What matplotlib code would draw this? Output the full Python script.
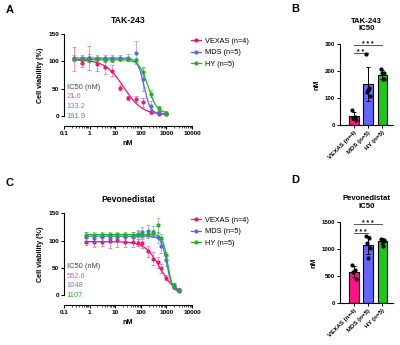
import numpy as np
import matplotlib
matplotlib.use('Agg')
from matplotlib import pyplot as plt

plt.rcParams['font.family'] = ['Liberation Sans', 'DejaVu Sans']

groups = ['VEXAS (n=4)', 'MDS (n=5)', 'HY (n=5)']
bar_labels = ['VEXAS (n=4)', 'MDS (n=5)', 'HY (n=5)']
line_colors = ['#EE1675', '#5C62F5', '#22B022']
text_colors = ['#EE5A98', '#7C7CE6', '#2FAA2F']
bar_colors = ['#FF1488', '#6464FF', '#1FC41F']

# TAK-243 dose response
tak_dose = [0.244, 0.49, 0.98, 1.95, 3.9, 7.8, 15.6, 31.2, 62.5, 125, 250, 500, 1000]
tak_mean = [
    [105, 97, 106, 95, 89, 83, 52, 33, 31, 25, 8, 3, 3],
    [107, 106, 106, 107, 106, 106, 107, 107, 116, 68, 19, 7, 4],
    [104, 104, 103, 104, 103, 103, 104, 104, 103, 81, 41, 15, 6],
]
tak_err = [
    [22, 8, 22, 12, 12, 10, 5, 4, 5, 8, 4, 2, 2],
    [5, 5, 7, 5, 5, 6, 5, 6, 21, 22, 8, 3, 2],
    [4, 4, 4, 4, 4, 5, 4, 4, 4, 6, 6, 4, 3],
]
# 4PL fit: top, bottom, IC50, hill
tak_fit = [(103, 2, 21.6, 1.2), (106, 4, 133.2, 3.5), (103, 5, 191.9, 2.5)]
tak_ic50 = ['21.6', '133.2', '191.9']

# Pevonedistat dose response
pev_dose = [0.75, 1.5, 3, 6, 12, 24, 48, 75, 110, 185, 300, 450, 600, 1000, 2000, 3000]
pev_mean = [
    [98, 97, 98, 99, 101, 98, 97, 96, 95, 80, 67, 60, 49, 32, 14, 8],
    [106, 104, 106, 105, 106, 106, 107, 110, 115, 117, 116, 106, 90, 64, 17, 9],
    [111, 111, 111, 111, 111, 111, 111, 112, 111, 112, 113, 128, 104, 73, 18, 10],
]
pev_err = [
    [6, 8, 8, 12, 12, 10, 8, 6, 8, 10, 12, 10, 8, 4, 3, 2],
    [10, 6, 8, 8, 8, 7, 8, 10, 10, 12, 10, 10, 12, 10, 5, 3],
    [5, 5, 5, 5, 5, 5, 5, 6, 5, 6, 6, 14, 8, 6, 4, 3],
]
pev_fit = [(98, 3, 552.6, 1.5), (108, 5, 1048, 4.0), (111, 7, 1107, 4.5)]
pev_ic50 = ['552.6', '1048', '1107']

# IC50 per patient (bar charts)
tak_bar_pts = [[55, 30, 25, 20], [265, 136, 123, 107, 129], [210, 195, 192, 170, 170]]
pev_bar_pts = [[700, 610, 570, 450], [1243, 1195, 1100, 1022, 827], [1190, 1170, 1150, 1140, 1060]]
tak_sig = [(0, 1, '* *', 268), (0, 2, '* * *', 298)]
pev_sig = [(0, 1, '* * *', 1300), (0, 2, '* * *', 1460)]

W, H = 400, 345
fig = plt.figure(figsize=(4, 3.45), dpi=100)


def px_axes(x0, y0, x1, y1):
    return fig.add_axes([x0 / W, 1 - y1 / H, (x1 - x0) / W, (y1 - y0) / H])


def curve_panel(ax, dose, means, errs, fits, ic50s, title, leg_y):
    handles = []
    for i in range(3):
        ax.errorbar(dose, means[i], yerr=errs[i], fmt='none', ecolor=line_colors[i],
                    alpha=0.55, elinewidth=0.6, capsize=1.3, capthick=0.6, clip_on=False)
        top, bot, ic, hill = fits[i]
        xs = np.logspace(np.log10(dose[0]), np.log10(dose[-1]), 200)
        ax.plot(xs, bot + (top - bot) / (1 + (xs / ic) ** hill), color=line_colors[i], lw=0.9)
        ax.plot(dose, means[i], 'o', color=line_colors[i], ms=2.0, clip_on=False)
        h, = ax.plot([], [], 'o-', color=line_colors[i], ms=2.0, lw=0.9, label=groups[i])
        handles.append(h)
    ax.set_xscale('log')
    ax.set_xlim(0.1, 10000)
    ax.set_ylim(0, 150)
    ax.set_yticks([0, 50, 100, 150])
    ax.set_xticks([0.1, 1, 10, 100, 1000, 10000])
    ax.set_xticklabels(['0.1', '1', '10', '100', '1000', '10000'])
    ax.spines['top'].set_visible(False)
    ax.spines['right'].set_visible(False)
    ax.spines['bottom'].set_position(('outward', 7))
    for s in ax.spines.values():
        s.set_linewidth(0.8)
    ax.tick_params(axis='both', which='major', labelsize=4.6, length=2, width=0.7, pad=1.5)
    ax.tick_params(axis='x', which='minor', length=1.3, width=0.5)
    for lab in ax.get_xticklabels() + ax.get_yticklabels():
        lab.set_fontweight('bold')
    ax.set_title(title, fontsize=6.2, fontweight='bold', pad=8)
    ax.set_ylabel('Cell viability (%)', fontsize=5.2, fontweight='bold', labelpad=3)
    ax.set_xlabel('nM', fontsize=5.2, fontweight='bold', labelpad=3)
    ax.legend(handles=handles, loc='upper left', bbox_to_anchor=(191 / W, 1 - leg_y / H),
              bbox_transform=fig.transFigure, frameon=False, fontsize=5.3,
              handlelength=1.35, handletextpad=0.6, labelspacing=0.6,
              borderpad=0, borderaxespad=0)
    ax.text(0.02, 0.35, 'IC50 (nM)', transform=ax.transAxes, fontsize=5.4,
            color='#444444', va='center')
    for i in range(3):
        ax.text(0.02, 0.35 - 0.118 * (i + 1), ic50s[i], transform=ax.transAxes,
                fontsize=5.4, color=text_colors[i], va='center')


def bar_panel(ax, pts, ymax, yticks, title, sigs):
    pos = np.arange(3)
    means = [np.mean(p) for p in pts]
    sds = [np.std(p, ddof=1) for p in pts]
    ax.bar(pos, means, width=0.68, color=bar_colors, edgecolor='black', lw=0.8, zorder=2)
    ax.errorbar(pos, means, yerr=sds, fmt='none', ecolor='black', elinewidth=0.7,
                capsize=1.6, capthick=0.7, zorder=3)
    jit = [-0.12, 0.1, -0.04, 0.14, 0.02]
    for i, p in enumerate(pts):
        ax.plot(pos[i] + np.array(jit[:len(p)]), p, 'o', color='black', ms=2.0, zorder=4,
                clip_on=False)
    for a, b, stars, y in sigs:
        ax.plot([pos[a], pos[b]], [y, y], color='#555555', lw=0.7, clip_on=False)
        ax.annotate(stars, ((pos[a] + pos[b]) / 2, y), xytext=(0, -1.1),
                    textcoords='offset points', ha='center', va='baseline',
                    fontsize=4.8, fontweight='bold', annotation_clip=False)
    ax.set_xlim(-0.95, 2.7)
    ax.set_ylim(0, ymax)
    ax.set_yticks(yticks)
    ax.set_xticks(pos)
    ax.set_xticklabels(bar_labels, rotation=45, ha='right', rotation_mode='anchor')
    ax.spines['top'].set_visible(False)
    ax.spines['right'].set_visible(False)
    for s in ax.spines.values():
        s.set_linewidth(0.8)
    ax.tick_params(axis='both', labelsize=4.4, length=2, width=0.7, pad=1.5)
    for lab in ax.get_xticklabels() + ax.get_yticklabels():
        lab.set_fontweight('bold')
    ax.set_title(title, fontsize=5.6, fontweight='bold', pad=10, linespacing=1.1)
    ax.set_ylabel('nM', fontsize=5.2, fontweight='bold', labelpad=3)


axA = px_axes(64, 34, 192, 116)
curve_panel(axA, tak_dose, tak_mean, tak_err, tak_fit, tak_ic50, 'TAK-243', 37.5)
axC = px_axes(64, 213.3, 192, 295)
curve_panel(axC, pev_dose, pev_mean, pev_err, pev_fit, pev_ic50, 'Pevonedistat', 216.5)

axB = px_axes(340, 44.3, 392.5, 125)
bar_panel(axB, tak_bar_pts, 300, [0, 100, 200, 300], 'TAK-243\nIC50', tak_sig)
axD = px_axes(340, 221.7, 392.5, 303.3)
bar_panel(axD, pev_bar_pts, 1500, [0, 500, 1000, 1500], 'Pevonedistat\nIC50', pev_sig)

for letter, x, y in [('A', 6, 10), ('B', 291, 9), ('C', 6, 183), ('D', 291, 180)]:
    fig.text(x / W, 1 - y / H, letter, fontsize=8, fontweight='bold', va='center')

fig.savefig('out.png', dpi=100)
